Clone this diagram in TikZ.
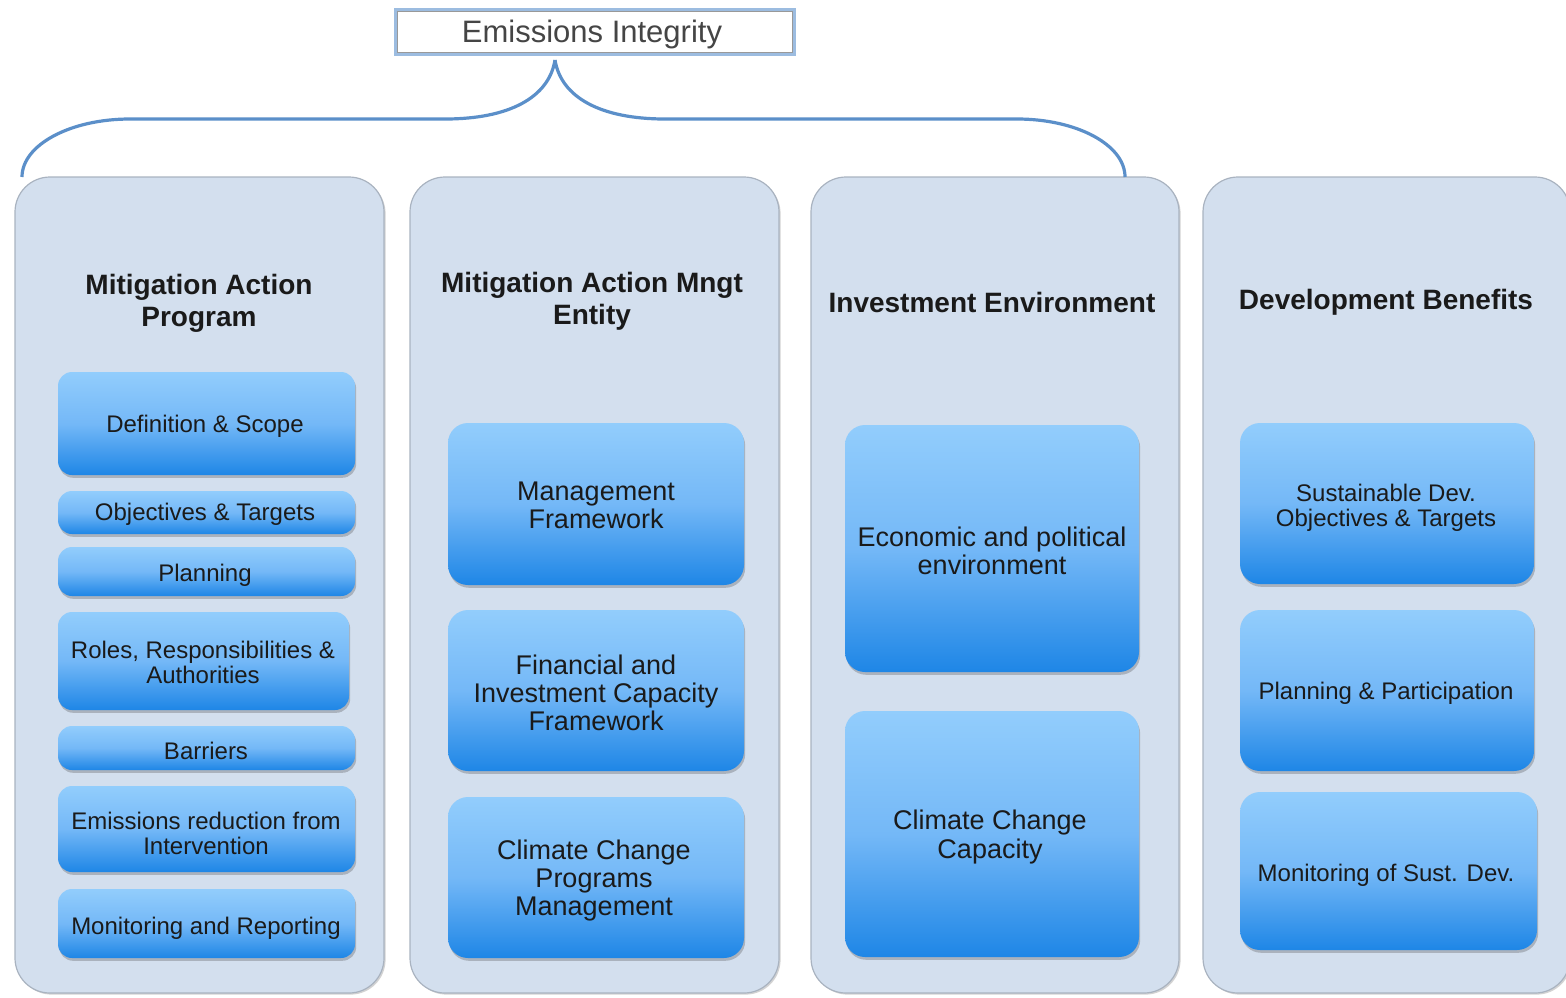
\documentclass[tikz,border=0pt]{standalone}
\usepackage{fontspec}
\setmainfont{Liberation Sans}
\usetikzlibrary{fit,shadows}
\definecolor{panelfill}{HTML}{D3DFEE}
\definecolor{panelline}{HTML}{A9B3C0}
\definecolor{bracec}{HTML}{5B8FC9}
\definecolor{gtop}{HTML}{92CDFC}
\definecolor{gmid}{HTML}{74B8F7}
\definecolor{gbot}{HTML}{1E86E6}
\definecolor{titleb}{HTML}{9CBCE0}
\definecolor{txt}{HTML}{1A1A1A}
\definecolor{titletxt}{HTML}{454545}
\begin{document}
\begin{tikzpicture}[x=0.5pt,y=-0.5pt,
  panel/.style={draw=panelline, line width=0.6pt, fill=panelfill, rounded corners=17.5pt, inner sep=0pt,
    drop shadow={shadow xshift=0.8pt, shadow yshift=-0.8pt, opacity=0.25, fill=black!70}},
  ibox/.style={rounded corners=7pt, inner sep=0pt, top color=gtop, bottom color=gbot, middle color=gmid,
    drop shadow={shadow xshift=0.6pt, shadow yshift=-1.4pt, opacity=0.3, fill=black!70}},
  bbox/.style={ibox, rounded corners=10pt},
  head/.style={font=\bfseries\fontsize{14}{16}\selectfont, align=center, text=txt, inner sep=0pt, yshift=-1pt},
  stxt/.style={font=\fontsize{12}{12.5}\selectfont, align=center, text=txt, inner sep=0pt, yshift=-1pt},
  mtxt/.style={font=\fontsize{13.5}{14}\selectfont, align=center, text=txt, inner sep=0pt, yshift=-1pt},
  brace/.style={draw=bracec, line width=1.6pt},
  ttl/.style={draw=titleb, line width=2pt, fill=white, inner sep=0pt}
]
\useasboundingbox (0,0) rectangle (1566,997);

% title
\node[ttl, fit={(396,10) (794,54)}] (title) {};
\draw[gray!80, line width=0.5pt] ([shift={(1.6pt,-1.6pt)}]title.north west) rectangle ([shift={(-1.6pt,1.6pt)}]title.south east);
\node[font=\fontsize{15.5}{17}\selectfont, text=titletxt, inner sep=0pt] (ttltext) at (592,34) {Emissions Integrity};

% panels
\node[panel, fit={(15,177) (384,993)}] (p1) {};
\node[panel, fit={(410,177) (779,993)}] (p2) {};
\node[panel, fit={(811,177) (1179,993)}] (p3) {};
\node[panel, fit={(1203,177) (1570,993)}] (p4) {};

% brace
\coordinate (tip) at (555,60);
\coordinate (bl) at (22,177);
\coordinate (br) at (1125,177);
\draw[brace] (tip) .. controls (549,97) and (510,119) .. (445,119) -- (130,119)
  .. controls (70,119) and (22,145) .. (bl);
\draw[brace] (tip) .. controls (561,97) and (600,119) .. (665,119) -- (1017,119)
  .. controls (1077,119) and (1125,145) .. (br);

% headings
\node[head] (h1) at (199,301) {Mitigation Action\\Program};
\node[head] (h2) at (592,299) {Mitigation Action Mngt\\Entity};
\node[head] (h3) at (992,300) {Investment Environment};
\node[head] (h4) at (1386,300) {Development Benefits};

% column 1
\node[ibox, fit={(58,372) (355,475)}] (a1) {};
\node[ibox, fit={(58,491) (355,534)}] (a2) {};
\node[ibox, fit={(58,547) (355,596)}] (a3) {};
\node[ibox, fit={(58,612) (349,710)}] (a4) {};
\node[ibox, fit={(58,726) (355,770)}] (a5) {};
\node[ibox, fit={(58,786) (355,872)}] (a6) {};
\node[ibox, fit={(58,889) (355,958)}] (a7) {};
\node[stxt] (ta1) at (205,424) {Definition \& Scope};
\node[stxt] (ta2) at (205,512) {Objectives \& Targets};
\node[stxt] (ta3) at (205,573) {Planning};
\node[stxt] (ta4) at (203,660) {Roles, Responsibilities \&\\Authorities};
\node[stxt] (ta5) at (206,749) {Barriers};
\node[stxt] (ta6) at (206,831) {Emissions reduction from\\Intervention};
\node[stxt] (ta7) at (206,926) {Monitoring and Reporting};

% column 2
\node[bbox, fit={(448,423) (744,585)}] (b1) {};
\node[bbox, fit={(448,610) (744,771)}] (b2) {};
\node[bbox, fit={(448,797) (744,958)}] (b3) {};
\node[mtxt] (tb1) at (596,503) {Management\\Framework};
\node[mtxt] (tb2) at (596,691) {Financial and\\Investment Capacity\\Framework};
\node[mtxt] (tb3) at (594,878) {Climate Change\\Programs\\Management};

% column 3
\node[bbox, fit={(845,425) (1139,672)}] (c1) {};
\node[bbox, fit={(845,711) (1139,957)}] (c2) {};
\node[mtxt] (tc1) at (992,549) {Economic and political\\environment};
\node[mtxt] (tc2) at (990,835) {Climate Change\\Capacity};

% column 4
\node[bbox, fit={(1240,423) (1534,584)}] (d1) {};
\node[bbox, fit={(1240,610) (1534,771)}] (d2) {};
\node[bbox, fit={(1240,792) (1537,950)}] (d3) {};
\node[stxt] (td1) at (1386,506) {Sustainable Dev.\\Objectives \& Targets};
\node[stxt] (td2) at (1386,691) {Planning \& Participation};
\node[stxt] (td3) at (1386,873) {Monitoring of Sust. Dev.};
\end{tikzpicture}
\end{document}
